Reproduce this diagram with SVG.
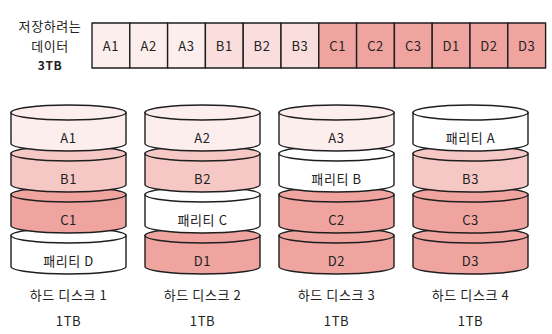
<svg xmlns="http://www.w3.org/2000/svg" width="552" height="334" viewBox="0 0 552 334">
<style>
text{font-family:"Noto Sans CJK KR","Noto Sans",sans-serif;font-size:13px;letter-spacing:0.6px;fill:#222;text-anchor:middle;dominant-baseline:central}
.ln{stroke:#1e1e1e;stroke-width:1.4;stroke-linejoin:round}
.a{fill:#fdeeee}.tb{fill:#f9dedd}.b{fill:#f6c8c5}.c{fill:#f0a4a0}.p{fill:#ffffff}
.bold{font-weight:bold;font-size:12px}
</style>
<defs>
<g id="seg">
<path class="ln" d="M-57.5,0 L-57.5,31 A57.5,7.5 0 0 0 57.5,31 L57.5,0 Z"/>
<ellipse class="ln" cx="0" cy="0" rx="57.5" ry="7.5"/>
</g>
</defs>
<rect width="552" height="334" fill="#ffffff"/>
<g id="data-label">
<text x="50" y="25">저장하려는</text>
<text x="50" y="45">데이터</text>
<text x="50" y="64" class="bold">3TB</text>
</g>
<g id="data-row">
<rect class="ln a" x="92" y="23" width="37.8" height="45"/><text x="110.9" y="45.5">A1</text>
<rect class="ln a" x="129.8" y="23" width="37.8" height="45"/><text x="148.7" y="45.5">A2</text>
<rect class="ln a" x="167.6" y="23" width="37.8" height="45"/><text x="186.5" y="45.5">A3</text>
<rect class="ln tb" x="205.4" y="23" width="37.8" height="45"/><text x="224.3" y="45.5">B1</text>
<rect class="ln tb" x="243.2" y="23" width="37.8" height="45"/><text x="262.1" y="45.5">B2</text>
<rect class="ln tb" x="281" y="23" width="37.8" height="45"/><text x="299.9" y="45.5">B3</text>
<rect class="ln c" x="318.8" y="23" width="37.8" height="45"/><text x="337.7" y="45.5">C1</text>
<rect class="ln c" x="356.6" y="23" width="37.8" height="45"/><text x="375.5" y="45.5">C2</text>
<rect class="ln c" x="394.4" y="23" width="37.8" height="45"/><text x="413.3" y="45.5">C3</text>
<rect class="ln c" x="432.2" y="23" width="37.8" height="45"/><text x="451.1" y="45.5">D1</text>
<rect class="ln c" x="470" y="23" width="37.8" height="45"/><text x="488.9" y="45.5">D2</text>
<rect class="ln c" x="507.8" y="23" width="37.8" height="45"/><text x="526.7" y="45.5">D3</text>
</g>
<g id="disk1" transform="translate(68.5,0)">
<use href="#seg" class="p" y="235.5"/><text y="260.5">패리티 D</text>
<use href="#seg" class="c" y="194.5"/><text y="219.5">C1</text>
<use href="#seg" class="b" y="153.5"/><text y="178.5">B1</text>
<use href="#seg" class="a" y="112.5"/><text y="137.5">A1</text>
<text y="294">하드 디스크 1</text>
<text y="320">1TB</text>
</g>
<g id="disk2" transform="translate(202.5,0)">
<use href="#seg" class="c" y="235.5"/><text y="260.5">D1</text>
<use href="#seg" class="p" y="194.5"/><text y="219.5">패리티 C</text>
<use href="#seg" class="b" y="153.5"/><text y="178.5">B2</text>
<use href="#seg" class="a" y="112.5"/><text y="137.5">A2</text>
<text y="294">하드 디스크 2</text>
<text y="320">1TB</text>
</g>
<g id="disk3" transform="translate(336.5,0)">
<use href="#seg" class="c" y="235.5"/><text y="260.5">D2</text>
<use href="#seg" class="c" y="194.5"/><text y="219.5">C2</text>
<use href="#seg" class="p" y="153.5"/><text y="178.5">패리티 B</text>
<use href="#seg" class="a" y="112.5"/><text y="137.5">A3</text>
<text y="294">하드 디스크 3</text>
<text y="320">1TB</text>
</g>
<g id="disk4" transform="translate(470.5,0)">
<use href="#seg" class="c" y="235.5"/><text y="260.5">D3</text>
<use href="#seg" class="c" y="194.5"/><text y="219.5">C3</text>
<use href="#seg" class="b" y="153.5"/><text y="178.5">B3</text>
<use href="#seg" class="p" y="112.5"/><text y="137.5">패리티 A</text>
<text y="294">하드 디스크 4</text>
<text y="320">1TB</text>
</g>
</svg>
